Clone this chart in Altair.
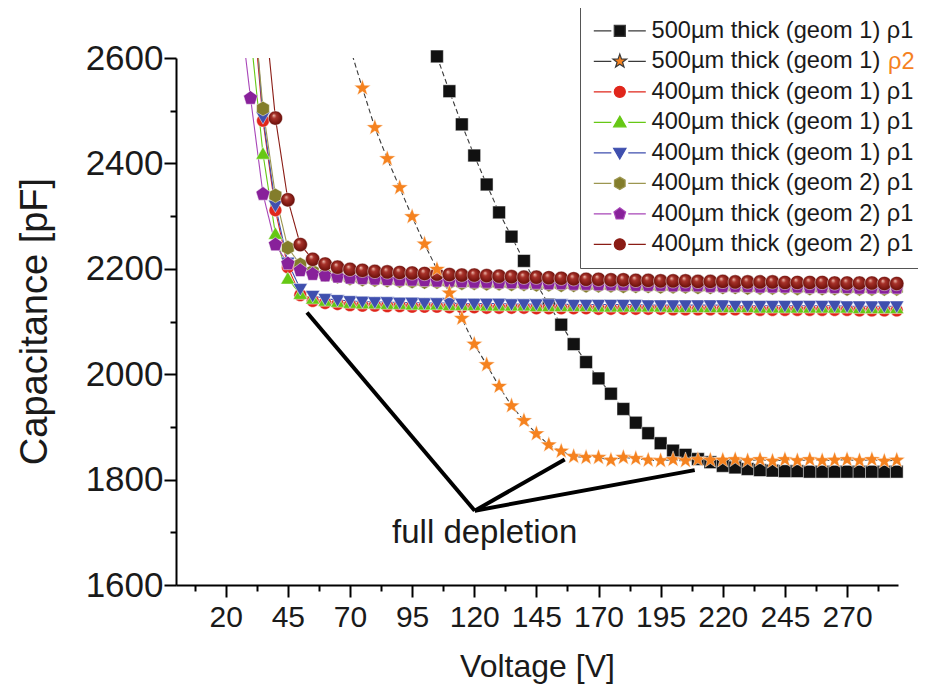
import altair as alt
import pandas as pd

VOLTAGE = [25, 30, 35, 40, 45, 50, 55, 60, 65, 70,
           75, 80, 85, 90, 95, 100, 105, 110, 115, 120,
           125, 130, 135, 140, 145, 150, 155, 160, 165, 170,
           175, 180, 185, 190, 195, 200, 205, 210, 215, 220,
           225, 230, 235, 240, 245, 250, 255, 260, 265, 270,
           275, 280, 285, 290]

N = None
S1_500_G1 = [N, N, N, N, N, N, N, N, N, N,
             N, N, N, N, N, N, 2603, 2537, 2474, 2415,
             2360, 2307, 2261, 2215, 2172, 2132, 2094, 2057, 2023, 1992,
             1963, 1934, 1908, 1888, 1869, 1855, 1847, 1839, 1833, 1826,
             1823, 1820, 1818, 1817, 1816, 1816, 1815, 1815, 1815, 1815,
             1815, 1815, 1815, 1815]
S2_500_G1_RHO2 = [N, N, N, N, N, N, N, N, N, 2620,
                  2543, 2468, 2409, 2354, 2299, 2247, 2199, 2154, 2106, 2057,
                  2018, 1977, 1940, 1912, 1887, 1866, 1854, 1844, 1842, 1842,
                  1837, 1842, 1840, 1837, 1836, 1838, 1836, 1838, 1837, 1837,
                  1838, 1836, 1838, 1835, 1838, 1836, 1838, 1836, 1837, 1838,
                  1836, 1838, 1835, 1837]
S3_400_G1_A = [N, 2751, 2481, 2311, 2203, 2150, 2139, 2135, 2133, 2131,
               2130, 2130, 2129, 2129, 2128, 2128, 2128, 2127, 2127, 2127,
               2126, 2126, 2126, 2126, 2125, 2125, 2125, 2125, 2125, 2124,
               2124, 2124, 2124, 2124, 2124, 2123, 2123, 2123, 2123, 2123,
               2123, 2123, 2122, 2122, 2122, 2122, 2122, 2122, 2122, 2122,
               2121, 2121, 2121, 2121]
S4_400_G1_B = [N, 2646, 2418, 2266, 2181, 2152, 2143, 2139, 2137, 2135,
               2134, 2134, 2133, 2133, 2132, 2132, 2132, 2131, 2131, 2131,
               2130, 2130, 2130, 2130, 2129, 2129, 2129, 2129, 2129, 2128,
               2128, 2128, 2128, 2128, 2128, 2127, 2127, 2127, 2127, 2127,
               2127, 2127, 2126, 2126, 2126, 2126, 2126, 2126, 2126, 2126,
               2125, 2125, 2125, 2125]
S5_400_G1_C = [N, 2780, 2488, 2320, 2212, 2162, 2149, 2143, 2141, 2139,
               2138, 2137, 2137, 2136, 2136, 2135, 2135, 2135, 2134, 2134,
               2134, 2134, 2133, 2133, 2133, 2133, 2133, 2132, 2132, 2132,
               2132, 2132, 2132, 2131, 2131, 2131, 2131, 2131, 2131, 2131,
               2130, 2130, 2130, 2130, 2130, 2130, 2130, 2130, 2130, 2129,
               2129, 2129, 2129, 2129]
S6_400_G2_A = [N, 2767, 2504, 2339, 2240, 2208, 2195, 2189, 2185, 2182,
               2180, 2179, 2178, 2177, 2176, 2175, 2175, 2174, 2173, 2173,
               2172, 2172, 2171, 2171, 2170, 2170, 2169, 2169, 2168, 2168,
               2168, 2167, 2167, 2167, 2166, 2166, 2166, 2165, 2165, 2165,
               2165, 2164, 2164, 2164, 2164, 2163, 2163, 2163, 2163, 2162,
               2162, 2162, 2162, 2162]
S7_400_G2_B = [2722, 2524, 2342, 2246, 2210, 2197, 2190, 2187, 2185, 2183,
               2182, 2181, 2180, 2179, 2179, 2178, 2177, 2177, 2176, 2175,
               2175, 2174, 2174, 2173, 2173, 2172, 2172, 2171, 2171, 2170,
               2170, 2170, 2169, 2169, 2169, 2168, 2168, 2168, 2167, 2167,
               2167, 2167, 2166, 2166, 2166, 2166, 2165, 2165, 2165, 2165,
               2164, 2164, 2164, 2164]
S8_400_G2_C = [N, N, 2724, 2486, 2331, 2246, 2218, 2209, 2203, 2199,
               2197, 2195, 2194, 2193, 2192, 2191, 2190, 2189, 2188, 2188,
               2187, 2186, 2185, 2184, 2184, 2183, 2182, 2181, 2180, 2180,
               2179, 2179, 2178, 2178, 2177, 2177, 2177, 2176, 2176, 2176,
               2175, 2175, 2175, 2175, 2174, 2174, 2174, 2174, 2173, 2173,
               2173, 2173, 2172, 2172]

# legend labels; zero-width spaces keep the repeated names distinct.
# the orange "ρ2" of the second entry is added as a separate text.
LEGEND_LABELS = ["500µm thick (geom 1) ρ1",
                 "500µm thick (geom 1)",
                 "400µm thick (geom 1) ρ1",
                 "400µm thick (geom 1) ρ1\u200b",
                 "400µm thick (geom 1) ρ1\u200b\u200b",
                 "400µm thick (geom 2) ρ1",
                 "400µm thick (geom 2) ρ1\u200b",
                 "400µm thick (geom 2) ρ1\u200b\u200b"]
SERIES_KEYS = ["s1", "s2", "s3", "s4", "s5", "s6", "s7", "s8"]
RHO2_TEXT = ["ρ2"]
RHO2_V = [286.5]
RHO2_C = [2592]

SERIES_VALUES = [S1_500_G1, S2_500_G1_RHO2, S3_400_G1_A, S4_400_G1_B,
                 S5_400_G1_C, S6_400_G2_A, S7_400_G2_B, S8_400_G2_C]
MARKER_COLORS = ["#111111", "#F5821F", "#E0261B", "#66C814",
                 "#3F4FAE", "#837D2B", "#88219A", "#8A1C15"]
LINE_COLORS = ["#3a3a3a", "#3a3a3a", "#E0261B", "#66C814",
               "#3F4FAE", "#9C9650", "#A846B8", "#8A1C15"]
LINE_DASHES = [[5, 3], [5, 3], [1, 0], [1, 0], [1, 0], [1, 0], [1, 0], [1, 0]]
MARKER_SIZES = [225, 250, 225, 225, 225, 240, 240, 280]

X_MAJOR = [20, 45, 70, 95, 120, 145, 170, 195, 220, 245, 270]
X_MINOR = [7.5, 32.5, 57.5, 82.5, 107.5, 132.5, 157.5, 182.5, 207.5, 232.5, 257.5, 282.5]
Y_MAJOR = [1600, 1800, 2000, 2200, 2400, 2600]
Y_MINOR = [1700, 1900, 2100, 2300, 2500]

ANNOT_FROM_V = [120.2, 120.2, 120.2]
ANNOT_FROM_C = [1741, 1741, 1741]
ANNOT_TO_V = [52.7, 156.4, 208.7]
ANNOT_TO_C = [2117, 1838, 1818]
ANNOT_TEXT = ["full depletion"]
ANNOT_TEXT_V = [124.2]
ANNOT_TEXT_C = [1699]

SQUARE = "M-0.85,-0.85L0.85,-0.85L0.85,0.85L-0.85,0.85Z"
STAR = ("M0,-1.1L0.26,-0.36L1.05,-0.34L0.42,0.14L0.65,0.89L0,0.44"
        "L-0.65,0.89L-0.42,0.14L-1.05,-0.34L-0.26,-0.36Z")
CIRCLE = "M-0.85,0A0.85,0.85 0 1,0 0.85,0A0.85,0.85 0 1,0 -0.85,0Z"
TRI_UP = "M0,-0.95L0.95,0.7L-0.95,0.7Z"
TRI_DOWN = "M0,0.95L0.95,-0.7L-0.95,-0.7Z"
HEXAGON = "M0,-0.95L0.82,-0.48L0.82,0.48L0,0.95L-0.82,0.48L-0.82,-0.48Z"
PENTAGON = "M0,-0.95L0.9,-0.29L0.56,0.8L-0.56,0.8L-0.9,-0.29Z"
MARKERS = [SQUARE, STAR, CIRCLE, TRI_UP, TRI_DOWN, HEXAGON, PENTAGON, CIRCLE]
LEG_LINE = "M-4.0,0L-1.3,0M1.3,0L4.0,0"
LEGEND_SHAPES = [LEG_LINE + m for m in MARKERS]

rows = []
for key, name, vals in zip(SERIES_KEYS, LEGEND_LABELS, SERIES_VALUES):
    for v, c in zip(VOLTAGE, vals):
        if c is not None:
            rows.append({"key": key, "series": name, "V": v, "C": c})
df = pd.DataFrame(rows)

annot = pd.DataFrame({"V": ANNOT_FROM_V, "C": ANNOT_FROM_C,
                      "V2": ANNOT_TO_V, "C2": ANNOT_TO_C})
annot_text = pd.DataFrame({"V": ANNOT_TEXT_V, "C": ANNOT_TEXT_C, "t": ANNOT_TEXT})
rho2 = pd.DataFrame({"V": RHO2_V, "C": RHO2_C, "t": RHO2_TEXT})

FONT = "Liberation Sans, Arial, sans-serif"
INK = "#1a1a1a"
LEGEND_FONT_SIZE = 23.6
XSCALE = alt.Scale(domain=[0, 290.5], nice=False, zero=False)
YSCALE = alt.Scale(domain=[1600, 2600], nice=False, zero=False)

x_major_axis = alt.Axis(
    orient="bottom", values=X_MAJOR, format="d", tickSize=12, tickWidth=2,
    tickColor="black", domainColor="black", domainWidth=2,
    labelFont=FONT, labelFontSize=30, labelColor=INK, labelPadding=5,
    labelOverlap=False, labelFlush=False, grid=False,
    title="Voltage [V]", titleFont=FONT, titleFontSize=32, titleFontWeight="normal",
    titleColor=INK, titleX=361, titleY=81, titleBaseline="middle", titleAlign="center",
)
y_major_axis = alt.Axis(
    orient="left", values=Y_MAJOR, format="d", tickSize=12, tickWidth=2,
    tickColor="black", domainColor="black", domainWidth=2,
    labelFont=FONT, labelFontSize=35, labelColor=INK, labelPadding=1,
    labelOverlap=False, labelFlush=False, grid=False,
    title="Capacitance [pF]", titleFont=FONT, titleFontSize=38, titleFontWeight="normal",
    titleColor=INK, titleX=-141, titleY=263, titleAngle=270,
    titleBaseline="middle", titleAlign="center",
)
x_minor_axis = alt.Axis(orient="bottom", values=X_MINOR, tickSize=6, tickWidth=2,
                        tickColor="black", labels=False, domain=False, grid=False, title="")
y_minor_axis = alt.Axis(orient="left", values=Y_MINOR, tickSize=6, tickWidth=2,
                        tickColor="black", labels=False, domain=False, grid=False, title="")

X_MAIN = alt.X("V:Q", scale=XSCALE, axis=x_major_axis)
Y_MAIN = alt.Y("C:Q", scale=YSCALE, axis=y_major_axis)
X_MIN = alt.X("V:Q", scale=XSCALE, axis=x_minor_axis)
Y_MIN = alt.Y("C:Q", scale=YSCALE, axis=y_minor_axis)
X_PLAIN = alt.X("V:Q", scale=XSCALE, axis=None)
Y_PLAIN = alt.Y("C:Q", scale=YSCALE, axis=None)

# lines use the short keys so their (hidden) legends do not merge with the real one
lines = alt.Chart(df).mark_line(clip=True, strokeWidth=1.1).encode(
    x=X_MAIN, y=Y_MAIN,
    color=alt.Color("key:N", scale=alt.Scale(domain=SERIES_KEYS, range=LINE_COLORS), legend=None),
    strokeDash=alt.StrokeDash("key:N", scale=alt.Scale(domain=SERIES_KEYS, range=LINE_DASHES), legend=None),
)

minor_ticks = alt.Chart(df).mark_point(opacity=0, size=1).encode(x=X_MIN, y=Y_MIN)

sphere_fill = alt.RadialGradient(
    gradient="radial",
    stops=[alt.GradientStop(color="#f3c6b8", offset=0),
           alt.GradientStop(color="#a8322a", offset=0.3),
           alt.GradientStop(color="#7a1711", offset=0.75),
           alt.GradientStop(color="#5e0f0b", offset=1)],
    x1=0.38, y1=0.3, r1=0, x2=0.5, y2=0.5, r2=0.55,
)

DRAW_ORDER = [0, 2, 3, 4, 5, 6, 7, 1]
point_layers = []
for i in DRAW_ORDER:
    key = SERIES_KEYS[i]
    fill = sphere_fill if i == 7 else MARKER_COLORS[i]
    pl = alt.Chart(df).transform_filter(
        (alt.datum.key == key) & (alt.datum.C <= 2610)
    ).mark_point(
        filled=True, shape=MARKERS[i], size=MARKER_SIZES[i], fill=fill, opacity=1,
        stroke="#ffffff", strokeWidth=0.6, strokeOpacity=0.8,
    ).encode(x=X_PLAIN, y=Y_PLAIN)
    point_layers.append(pl)

leg = alt.Legend(
    orient="none", legendX=404, legendY=-51, title="",
    labelFont=FONT, labelFontSize=LEGEND_FONT_SIZE, labelColor=INK, labelLimit=400,
    symbolSize=169, symbolStrokeWidth=1.2, symbolOpacity=1,
    symbolOffset=16, labelOffset=20, rowPadding=5.5,
    strokeColor="#555555", fillColor="transparent", padding=12,
)
carrier = alt.Chart(df).transform_filter("datum.C < 0").mark_point(filled=True).encode(
    x=X_PLAIN, y=Y_PLAIN,
    fill=alt.Fill("series:N", scale=alt.Scale(domain=LEGEND_LABELS, range=MARKER_COLORS), legend=leg),
    stroke=alt.Stroke("series:N", scale=alt.Scale(domain=LEGEND_LABELS, range=LINE_COLORS), legend=leg),
    shape=alt.Shape("series:N", scale=alt.Scale(domain=LEGEND_LABELS, range=LEGEND_SHAPES), legend=leg),
)

rules = alt.Chart(annot).mark_rule(strokeWidth=4, color="black").encode(
    x=X_PLAIN, y=Y_PLAIN, x2="V2:Q", y2="C2:Q")
label = alt.Chart(annot_text).mark_text(
    font=FONT, fontSize=33, color=INK, baseline="middle", align="center"
).encode(x=X_PLAIN, y=Y_PLAIN, text="t:N")
rho2_label = alt.Chart(rho2).mark_text(
    font=FONT, fontSize=LEGEND_FONT_SIZE, color="#F5821F", baseline="middle", align="left"
).encode(x=X_PLAIN, y=Y_PLAIN, text="t:N")

chart = alt.layer(lines, minor_ticks, *point_layers, rules, label, rho2_label, carrier).resolve_axis(
    x="independent", y="independent"
).properties(
    width=722, height=527, background="white",
    padding={"left": 168, "top": 50, "right": 20, "bottom": 104},
    autosize=alt.AutoSizeParams(type="none"),
).configure_view(strokeWidth=0)

chart.save("out.html", embed_options={"renderer": "svg", "actions": False})
